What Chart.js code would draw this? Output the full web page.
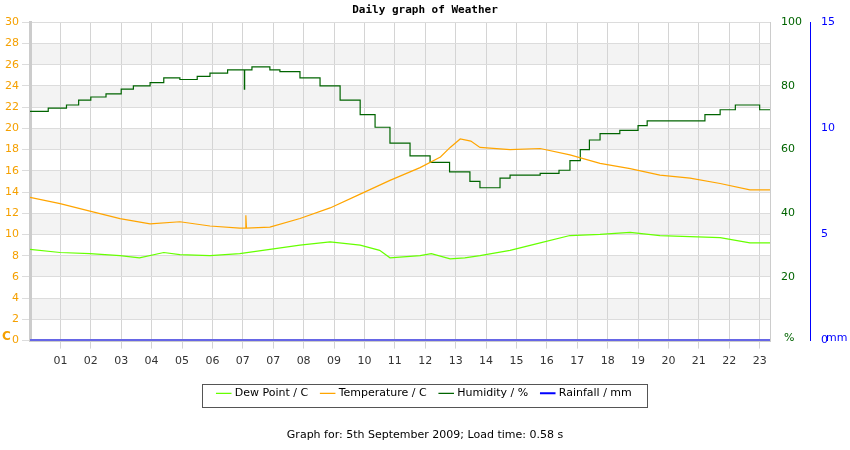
<!DOCTYPE html>
<html><head><meta charset="utf-8">
<script src="https://cdn.jsdelivr.net/npm/chart.js@4/dist/chart.umd.min.js"></script>
<style>body{margin:0;background:#fff}#w{position:relative;width:850px;height:450px}</style>
</head><body><div id="w"><canvas id="c" width="850" height="450"></canvas></div>
<script>
const tickLabels=["01","02","03","04","05","06","07","07","08","09","10","11","12","13","14","15","16","17","18","19","20","21","22","23"];
const tempHours=[0,0.99,1.97,2.96,3.95,4.93,5.92,6.9,7.09,7.1,7.12,7.89,8.88,9.87,10.86,11.84,12.83,13.5,13.82,14.15,14.5,14.8,15.79,16.78,17.76,18.75,19.74,20.72,21.71,22.7,23.68,24.34];
const tempVals=[13.5,12.9,12.2,11.5,11.0,11.2,10.8,10.6,10.6,11.8,10.6,10.7,11.5,12.5,13.8,15.1,16.3,17.3,18.2,19.0,18.8,18.2,18.0,18.1,17.5,16.7,16.2,15.6,15.3,14.8,14.2,14.2];
const humHours=[0,0.6,1.2,1.6,2.0,2.5,3.0,3.4,3.95,4.4,4.93,5.5,5.92,6.5,7.05,7.06,7.3,7.89,8.22,8.88,9.54,10.2,10.86,11.35,11.84,12.5,13.16,13.8,14.47,14.8,15.46,15.79,16.78,17.4,17.76,18.1,18.4,18.75,19.4,20.0,20.3,21.71,22.2,22.7,23.2,23.68,24.0,24.34];
const humVals=[72,73,74,75.5,76.5,77.5,79,80,81,82.5,82,83,84,85,79,85,86,85,84.5,82.5,80,75.5,71,67,62,58,56,53,50,48,51,52,52.5,53.5,56.5,60,63,65,66,67.5,69,69,71,72.5,74,74,72.5,72.5];
const dewHours=[0,0.99,1.97,2.96,3.6,4.4,4.93,5.92,6.9,7.89,8.88,9.87,10.86,11.5,11.84,12.83,13.2,13.82,14.3,14.8,15.79,16.78,17.76,18.75,19.74,20.72,21.71,22.7,23.68,24.34];
const dewVals=[8.6,8.3,8.2,8.0,7.8,8.3,8.1,8.0,8.2,8.6,9.0,9.3,9.0,8.5,7.8,8.0,8.2,7.7,7.8,8.0,8.5,9.2,9.9,10.0,10.2,9.9,9.8,9.7,9.2,9.2];
const rainHours=[0,24.34];
const rainVals=[0,0];
const zip=(h,v)=>h.map((x,i)=>({x,y:v[i]}));
const bands={id:'bands',beforeDraw(ch){const{ctx,chartArea:a,scales:{y}}=ch;ctx.save();ctx.fillStyle='#f3f3f3';for(let v=2;v<30;v+=4){const t=y.getPixelForValue(v+2),b=y.getPixelForValue(v);ctx.fillRect(a.left,t,a.right-a.left,b-t);}ctx.restore();},
afterDraw(ch){const{ctx}=ch;ctx.save();ctx.font='bold 12px DejaVu Sans';ctx.fillStyle='#f5a000';ctx.fillText('C',2,337);ctx.font='11px DejaVu Sans';ctx.fillStyle='#006400';ctx.fillText('%',784,338);ctx.fillStyle='#0000ff';ctx.fillText('mm',826,338);
ctx.strokeStyle='#555';ctx.lineWidth=1;ctx.strokeRect(202.5,384.5,445,23);ctx.restore();}};
new Chart(document.getElementById('c'),{type:'line',
data:{datasets:[
{label:'Dew Point / C',data:zip(dewHours,dewVals),borderColor:'#66ff00',backgroundColor:'#66ff00',yAxisID:'y',borderWidth:1.2,pointRadius:0},
{label:'Temperature / C',data:zip(tempHours,tempVals),borderColor:'#ffa500',backgroundColor:'#ffa500',yAxisID:'y',borderWidth:1.2,pointRadius:0},
{label:'Humidity / %',data:zip(humHours,humVals),borderColor:'#006400',backgroundColor:'#006400',yAxisID:'y1',stepped:true,borderWidth:1.2,pointRadius:0},
{label:'Rainfall / mm',data:zip(rainHours,rainVals),borderColor:'#0000ff',backgroundColor:'#0000ff',yAxisID:'y2',borderWidth:2,pointRadius:0}]},
options:{responsive:false,animation:false,layout:{padding:{top:0,bottom:8}},
plugins:{title:{display:true,text:'Daily graph of Weather',font:{family:'DejaVu Sans Mono',size:11,weight:'bold'},color:'#000',padding:{top:4,bottom:5}},
subtitle:{display:true,position:'bottom',text:'Graph for: 5th September 2009; Load time: 0.58 s',font:{family:'DejaVu Sans',size:11},color:'#000',padding:{top:20}},
legend:{position:'bottom',labels:{usePointStyle:true,pointStyle:'line',boxWidth:18,font:{family:'DejaVu Sans',size:11},color:'#000',padding:14}},tooltip:{enabled:false}},
scales:{
x:{type:'linear',min:0,max:24.34,afterBuildTicks(s){s.ticks=tickLabels.map((t,i)=>({value:i+1}));},
ticks:{callback:(v,i)=>tickLabels[i],color:'#333',font:{family:'DejaVu Sans',size:11},maxRotation:0,autoSkip:false,padding:6},grid:{color:'#d4d4d4'},border:{color:'#ccc',width:3}},
y:{position:'left',min:0,max:30,afterFit(s){s.width=30;},ticks:{stepSize:2,color:'#f5a000',font:{family:'DejaVu Sans',size:11}},grid:{color:'#dcdcdc'},border:{color:'#ccc',width:3}},
y1:{position:'right',min:0,max:100,afterFit(s){s.width=40;},ticks:{stepSize:20,color:'#006400',font:{family:'DejaVu Sans',size:11},callback:v=>v===0?'':v},grid:{display:false},border:{color:'#ccc'}},
y2:{position:'right',min:0,max:15,afterFit(s){s.width=40;},ticks:{stepSize:5,color:'#0000ff',font:{family:'DejaVu Sans',size:11}},grid:{display:false},border:{color:'#0000ff'}}}},
plugins:[bands]});
</script></body></html>
